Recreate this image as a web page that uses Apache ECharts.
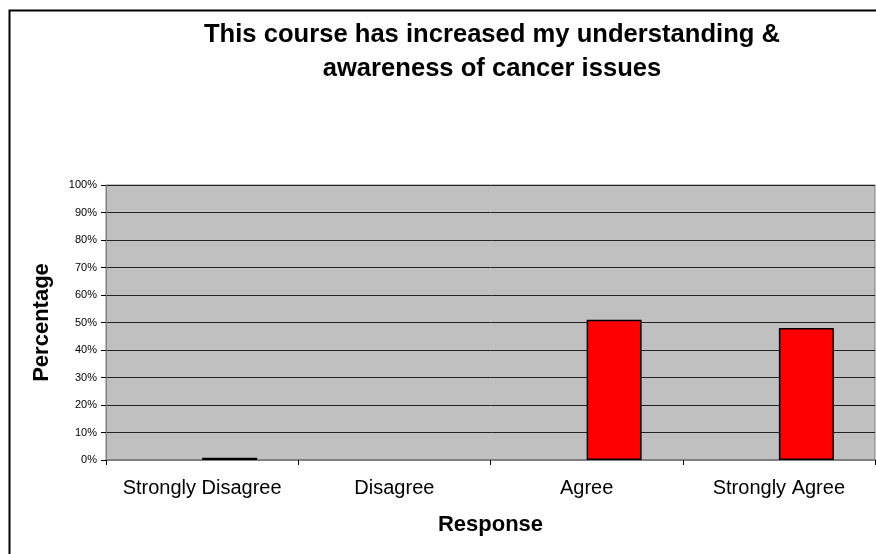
<!DOCTYPE html>
<html>
<head>
<meta charset="utf-8">
<script src="https://cdn.jsdelivr.net/npm/echarts@6/dist/echarts.min.js"></script>
<style>
html,body{margin:0;padding:0;background:#fff;}
#chart{width:876px;height:554px;}
</style>
</head>
<body>
<div id="chart"></div>
<script>
const categories = ["Strongly Disagree", "Disagree", "Agree", "Strongly Agree"];
const placeholderValues = ["-", "-", "-", "-"];
const percentValues = [0.8, "-", 51, 48];
const yTickLabels = ["0%", "10%", "20%", "30%", "40%", "50%", "60%", "70%", "80%", "90%", "100%"];
const titleLines = ["This course has increased my understanding &", "awareness of cancer issues"];

const chart = echarts.init(document.getElementById('chart'), null, {renderer: 'canvas'});
const font = '"Liberation Sans", Arial, sans-serif';
chart.setOption({
  animation: false,
  backgroundColor: '#ffffff',
  title: {
    text: titleLines.join('\n'),
    left: 487,
    top: 13,
    textAlign: 'center',
    textStyle: {fontFamily: font, fontSize: 25.6, fontWeight: 'bold', color: '#000', lineHeight: 34}
  },
  graphic: [{
    type: 'rect',
    shape: {x: 9.5, y: 10.5, width: 900, height: 600},
    style: {fill: null, stroke: '#000', lineWidth: 2},
    silent: true, z: 100
  }],
  grid: {left: 106, top: 185, right: 1, bottom: 94, show: true, backgroundColor: '#c0c0c0', borderColor: '#808080', borderWidth: 1},
  xAxis: {
    type: 'category',
    data: categories,
    name: 'Response',
    nameLocation: 'middle',
    nameGap: 54,
    nameTextStyle: {fontFamily: font, fontSize: 22, fontWeight: 'bold', color: '#000'},
    axisLine: {lineStyle: {color: '#808080', width: 2}},
    axisTick: {show: true, interval: 0, length: 5, lineStyle: {color: '#000'}},
    axisLabel: {interval: 0, fontFamily: font, fontSize: 20, color: '#000', margin: 18},
    splitLine: {show: false}
  },
  yAxis: {
    type: 'value',
    min: 0, max: 100, interval: 10,
    name: 'Percentage',
    nameLocation: 'middle',
    nameGap: 53,
    nameRotate: 90,
    nameTextStyle: {fontFamily: font, fontSize: 22, fontWeight: 'bold', color: '#000'},
    axisLine: {show: true, lineStyle: {color: '#808080', width: 1}},
    axisTick: {show: true, length: 5, lineStyle: {color: '#000'}},
    axisLabel: {fontFamily: font, fontSize: 11, color: '#000', margin: 9,
      formatter: function (v) { return yTickLabels[Math.round(v / 10)]; }},
    splitLine: {show: true, lineStyle: {color: '#222', width: 1}}
  },
  series: [
    {type: 'bar', data: placeholderValues, barWidth: 55, barGap: '0%', itemStyle: {color: '#9999ff'}},
    {type: 'bar', data: percentValues, barWidth: 55, barGap: '0%',
      itemStyle: {color: '#ff0000', borderColor: '#000', borderWidth: 1.5}}
  ]
});
</script>
</body>
</html>
